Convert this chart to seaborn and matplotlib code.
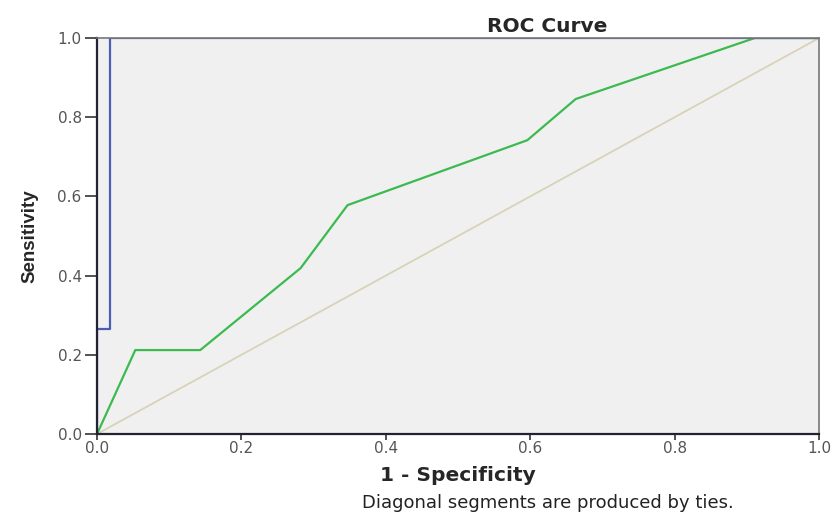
import pandas as pd
import seaborn as sns
import matplotlib.pyplot as plt

# ROC curve points
blue_fpr = [0.0, 0.0, 0.018, 0.018, 1.0]
blue_tpr = [0.0, 0.265, 0.265, 1.0, 1.0]

green_fpr = [0.0, 0.053, 0.143, 0.282, 0.347, 0.596, 0.663, 0.911, 1.0]
green_tpr = [0.0, 0.212, 0.212, 0.419, 0.578, 0.742, 0.846, 1.0, 1.0]

ref_line = [0.0, 1.0]
ticks = [0.0, 0.2, 0.4, 0.6, 0.8, 1.0]

df_blue = pd.DataFrame({"fpr": blue_fpr, "tpr": blue_tpr})
df_green = pd.DataFrame({"fpr": green_fpr, "tpr": green_tpr})
df_ref = pd.DataFrame({"fpr": ref_line, "tpr": ref_line})

sns.set_style("white")
plt.rcParams['font.family'] = ['DejaVu Sans']

fig = plt.figure(figsize=(8.32, 5.14), dpi=100)
ax = fig.add_axes([0.1166, 0.1556, 0.8678, 0.7704])
ax.set_facecolor("#f0f0f0")

sns.lineplot(data=df_ref, x="fpr", y="tpr", color="#d8d3b8", lw=1.3,
             sort=False, estimator=None, ax=ax)
sns.lineplot(data=df_green, x="fpr", y="tpr", color="#3dba4f", lw=1.6,
             sort=False, estimator=None, ax=ax)
sns.lineplot(data=df_blue, x="fpr", y="tpr", color="#4a5fb3", lw=1.6,
             sort=False, estimator=None, ax=ax)

ax.set_xlim(0, 1)
ax.set_ylim(0, 1)
ax.set_xticks(ticks)
ax.set_yticks(ticks)
ax.set_xticklabels([f"{t:.1f}" for t in ticks], fontsize=11)
ax.set_yticklabels([f"{t:.1f}" for t in ticks], fontsize=11)
ax.tick_params(axis="x", direction="out", length=4, width=1.2,
               colors="#333333", pad=1, bottom=True)
ax.tick_params(axis="y", direction="out", length=9, width=1.2,
               colors="#333333", pad=2, left=True)
for lbl in ax.get_xticklabels() + ax.get_yticklabels():
    lbl.set_color("#555555")

for side in ["left", "bottom"]:
    ax.spines[side].set_color("#222233")
    ax.spines[side].set_linewidth(1.6)
for side in ["top", "right"]:
    ax.spines[side].set_color("#777777")
    ax.spines[side].set_linewidth(1.2)

ax.set_xlabel("1 - Specificity", fontsize=14.5, fontweight="bold", labelpad=7)
ax.set_ylabel("Sensitivity", fontsize=13.5, fontweight="bold", labelpad=14,
              family=["Liberation Sans", "DejaVu Sans"])
ax.text(0.623, 1.006, "ROC Curve", transform=ax.transAxes, ha="center",
        va="bottom", fontsize=14.5, fontweight="bold")
fig.text(0.658, 0.021, "Diagonal segments are produced by ties.",
         ha="center", va="center", fontsize=13, color="#222222")

fig.savefig("out.png", dpi=100)
plt.close(fig)
